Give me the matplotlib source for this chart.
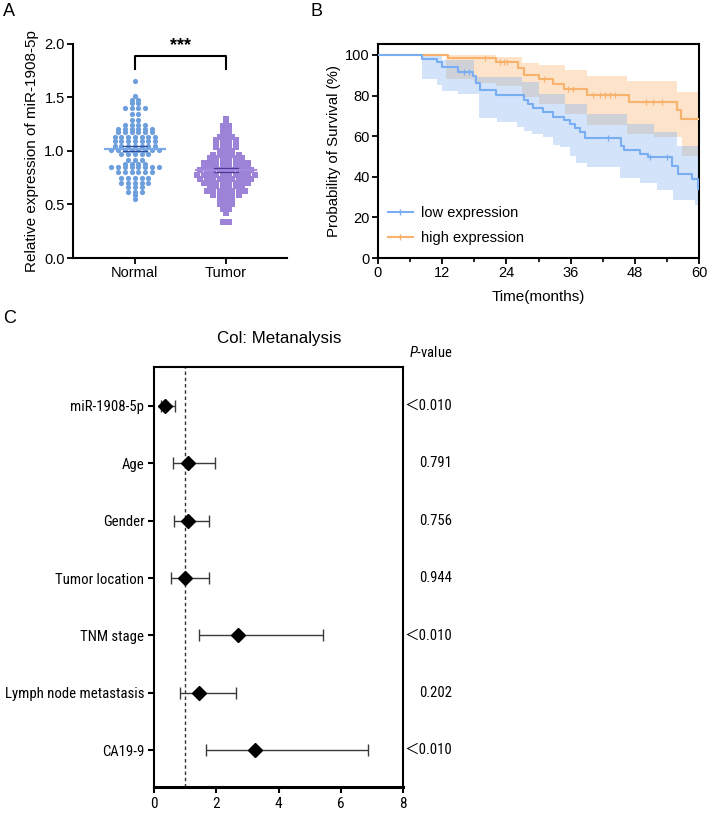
import numpy as np
import matplotlib
matplotlib.use('Agg')
import matplotlib.pyplot as plt
from matplotlib.lines import Line2D
import matplotlib.transforms as mtransforms
from matplotlib import font_manager as fm

plt.rcParams['font.family'] = ['Liberation Sans', 'DejaVu Sans']


def has_font(name):
    try:
        fm.findfont(fm.FontProperties(family=name), fallback_to_default=False)
        return True
    except Exception:
        return False


NARROW_NAME = None
for cand in ['Liberation Sans Narrow', 'Arial Narrow', 'Roboto Condensed',
             'Open Sans Condensed']:
    if has_font(cand):
        NARROW_NAME = cand
        break
if NARROW_NAME:
    NARROW = [NARROW_NAME, 'Liberation Sans', 'Noto Sans CJK SC']
    CS = 1.0
else:
    NARROW = ['Liberation Sans', 'Noto Sans CJK SC']
    CS = 0.84
plt.rcParams['mathtext.fontset'] = 'custom'
plt.rcParams['mathtext.it'] = (NARROW_NAME or 'Liberation Sans') + ':italic'
plt.rcParams['mathtext.rm'] = NARROW_NAME or 'Liberation Sans'

# ---------------- Panel A data ----------------
groups = ['Normal', 'Tumor']
normal_values = [1.65, 1.51, 1.48, 1.48, 1.45, 1.45, 1.40, 1.40, 1.40, 1.40, 1.35, 1.35,
                 1.29, 1.29, 1.24, 1.24, 1.24, 1.24,
                 1.21, 1.21, 1.21, 1.21, 1.21, 1.21,
                 1.18, 1.18, 1.18, 1.18, 1.18, 1.18,
                 1.13, 1.13, 1.13, 1.13, 1.13, 1.13, 1.13,
                 1.09, 1.09, 1.09, 1.09, 1.09, 1.09, 1.09,
                 1.05, 1.05, 1.05, 1.05, 1.05, 1.05, 1.05,
                 1.01, 1.01, 1.01, 1.01, 1.01, 1.01, 1.01, 1.01,
                 0.97, 0.97, 0.97, 0.97, 0.97,
                 0.92, 0.92, 0.92,
                 0.88, 0.88, 0.88, 0.88,
                 0.85, 0.85, 0.85, 0.85, 0.85, 0.85, 0.85, 0.85,
                 0.80, 0.80, 0.80, 0.80, 0.80, 0.80,
                 0.75, 0.75, 0.75, 0.75, 0.75,
                 0.70, 0.70, 0.70, 0.70, 0.70,
                 0.66, 0.66, 0.66, 0.62, 0.62, 0.62, 0.59, 0.55]
tumor_values = [1.30, 1.27, 1.23, 1.23, 1.18, 1.18, 1.13, 1.13, 1.13,
                1.10, 1.10, 1.10, 1.10, 1.07, 1.07, 1.07, 1.07,
                1.04, 1.04, 1.04, 1.04, 1.00, 1.00, 1.00,
                0.96, 0.96, 0.96, 0.96, 0.96,
                0.93, 0.93, 0.93, 0.93, 0.93, 0.93,
                0.89, 0.89, 0.89, 0.89, 0.89, 0.89, 0.89, 0.89,
                0.85, 0.85, 0.85, 0.85, 0.85, 0.85, 0.85, 0.85,
                0.82, 0.82, 0.82, 0.82, 0.82, 0.82, 0.82, 0.82, 0.82,
                0.78, 0.78, 0.78, 0.78, 0.78, 0.78, 0.78, 0.78, 0.78, 0.78,
                0.74, 0.74, 0.74, 0.74, 0.74, 0.74, 0.74, 0.74, 0.74,
                0.70, 0.70, 0.70, 0.70, 0.70, 0.70, 0.70, 0.70,
                0.67, 0.67, 0.67, 0.67, 0.67, 0.67,
                0.63, 0.63, 0.63, 0.63, 0.63, 0.63, 0.63,
                0.59, 0.59, 0.59, 0.59, 0.59,
                0.55, 0.55, 0.55, 0.50, 0.50, 0.50, 0.46, 0.46, 0.42, 0.34, 0.34]
a_yticks = [0.0, 0.5, 1.0, 1.5, 2.0]
sig_label = '***'

# ---------------- Panel B data ----------------
low_t = [0, 8.2, 11.0, 11.9, 15.0, 17.8, 18.3, 19.1, 22.1, 27.3, 28.0, 29.0, 30.9, 32.8,
         34.8, 35.9, 36.8, 37.7, 38.7, 45.5, 46.0, 49.0, 50.5, 54.9, 56.1, 58.6, 59.9]
low_s = [100, 98.2, 96.5, 94.2, 91.5, 89.5, 86, 82.5, 80.5, 78, 76, 74, 72, 69.5,
         68, 66, 64, 62, 59, 55, 53, 51, 49.5, 45.5, 41.5, 39, 34]
high_t = [0, 13.0, 22.1, 26.2, 27.2, 30.0, 32.8, 34.8, 39.0, 47.0, 55.8, 56.7]
high_s = [100, 98.5, 96.5, 93.5, 90, 88, 85.5, 83, 80.5, 77, 73, 68.5]
low_censor = [16.0, 17.0, 43.0, 50.8, 54.0]
high_censor = [20.0, 22.8, 23.5, 24.2, 31.0, 35.5, 36.5, 40.2, 41.5, 42.5, 43.3, 44.3,
               50.0, 51.4, 53.0]
low_lower_t = [0, 8.2, 11.0, 12.0, 15.0, 18.8, 22.2, 26.0, 27.3, 28.7, 30.9, 32.8, 34.0,
               35.9, 37.1, 39.0, 45.2, 49.0, 52.1, 55.2, 59.2]
low_lower_s = [100, 88, 85, 82.2, 80.6, 69, 67, 64.6, 62.7, 61, 59.4, 55.7, 54.8,
               50, 47, 45, 39.5, 36.8, 33.5, 28.6, 26]
low_upper_t = [0, 12.0, 18.0, 27.0, 30.0, 35.0, 39.0, 46.5, 51.5, 55.8]
low_upper_s = [100, 97.5, 89, 86.5, 81, 76, 71, 66, 62, 55]
high_lower_t = [0, 12.8, 18.0, 22.0, 27.0, 30.0, 35.0, 39.0, 46.5, 51.5, 56.8]
high_lower_s = [100, 88, 86, 84.5, 79.5, 76, 71, 65.5, 61, 59.5, 50]
high_upper_t = [0, 22.0, 27.0, 30.0, 35.0, 39.0, 46.5, 55.8]
high_upper_s = [100, 99, 96, 95, 92.5, 89.5, 87, 82]
t_end = 60
b_xticks = [0, 12, 24, 36, 48, 60]
b_yticks = [0, 20, 40, 60, 80, 100]
series_labels = ['low expression', 'high expression']

# ---------------- Panel C data ----------------
factors = ['miR-1908-5p', 'Age', 'Gender', 'Tumor location', 'TNM stage',
           'Lymph node metastasis', 'CA19-9']
hr = [0.35, 1.08, 1.08, 0.98, 2.69, 1.46, 3.24]
ci_low = [0.21, 0.61, 0.63, 0.55, 1.44, 0.83, 1.67]
ci_high = [0.66, 1.97, 1.77, 1.77, 5.44, 2.65, 6.89]
p_values = ['\uff1c0.010', '0.791', '0.756', '0.944', '\uff1c0.010', '0.202', '\uff1c0.010']
c_xticks = [0, 2, 4, 6, 8]

# colours
BLUE_DOT = '#6e9fdd'
PURPLE = '#9d83d8'
BLUE_LINE = '#7aaef2'
ORANGE_LINE = '#f7b36c'
BLUE_BAND = '#d2e3fa'
ORANGE_BAND = '#fde3ca'
GRAY_BAND = '#cfd1d8'

fig = plt.figure(figsize=(7.07, 8.15), dpi=100)
W, H = 707, 815


def ax_rect(l, t, r, b):
    return [l / W, 1 - b / H, (r - l) / W, (b - t) / H]


# ================= Panel A =================
axA = fig.add_axes(ax_rect(73, 44, 287, 258))


def row_offsets(values, dx):
    vals = np.asarray(values)
    xs = np.zeros(len(vals))
    for v in np.unique(vals):
        idx = np.where(vals == v)[0]
        n = len(idx)
        xs[idx] = (np.arange(n) - (n - 1) / 2) * dx
    return xs


nx = row_offsets(normal_values, 0.074)
tx = row_offsets(tumor_values, 0.07)
axA.scatter(0 + nx, normal_values, s=14, marker='o', color=BLUE_DOT, linewidths=0, zorder=3)
axA.scatter(1 + tx, tumor_values, s=15, marker='s', color=PURPLE, linewidths=0, zorder=3)

for i, (vals, lc, dc) in enumerate([(normal_values, '#79a9e6', '#2f4f9a'),
                                    (tumor_values, '#a58ae0', '#4a3a9a')]):
    m = np.mean(vals)
    sem = np.std(vals, ddof=1) / np.sqrt(len(vals))
    axA.plot([i - 0.33, i + 0.33], [m, m], color=lc, lw=1.6, zorder=4)
    axA.plot([i - 0.13, i + 0.13], [m + sem, m + sem], color=dc, lw=0.9, zorder=5)
    axA.plot([i - 0.13, i + 0.13], [m - sem, m - sem], color=dc, lw=0.9, zorder=5)

# significance bracket
axA.plot([0, 0, 1, 1], [1.77, 1.885, 1.885, 1.77], color='black', lw=1.5, clip_on=False)
axA.text(0.5, 1.905, sig_label, ha='center', va='bottom', fontsize=13, fontweight='bold',
         clip_on=False)

axA.set_xlim(-0.68, 1.67)
axA.set_ylim(0, 2.0)
axA.set_xticks([0, 1])
axA.set_xticklabels(groups, fontsize=10.5)
axA.set_yticks(a_yticks)
axA.set_yticklabels([f'{v:.1f}' for v in a_yticks], fontsize=10.5)
axA.set_ylabel('Relative expression of miR-1908-5p', fontsize=11, labelpad=4)
for s in ['top', 'right']:
    axA.spines[s].set_visible(False)
for s in ['left', 'bottom']:
    axA.spines[s].set_linewidth(1.5)
axA.tick_params(width=1.3, length=4, pad=2)

# ================= Panel B =================
axB = fig.add_axes(ax_rect(378, 44, 699, 258))


def step_eval(t, s, q):
    t = np.asarray(t)
    s = np.asarray(s, dtype=float)
    idx = np.searchsorted(t, q, side='right') - 1
    return s[idx]


grid = np.unique(np.concatenate([low_lower_t, low_upper_t, high_lower_t, high_upper_t,
                                 [t_end]]))
bl = step_eval(low_lower_t, low_lower_s, grid)
bu = step_eval(low_upper_t, low_upper_s, grid)
ol = step_eval(high_lower_t, high_lower_s, grid)
ou = step_eval(high_upper_t, high_upper_s, grid)
axB.fill_between(grid, bl, bu, step='post', color=BLUE_BAND, linewidth=0, zorder=1)
axB.fill_between(grid, ol, ou, step='post', color=ORANGE_BAND, linewidth=0, zorder=1)
ov_lo = np.maximum(bl, ol)
ov_up = np.maximum(np.minimum(bu, ou), ov_lo)
axB.fill_between(grid, ov_lo, ov_up, step='post', color=GRAY_BAND, linewidth=0, zorder=2)

axB.step(list(high_t) + [t_end], list(high_s) + [high_s[-1]], where='post',
         color=ORANGE_LINE, lw=1.5, zorder=3)
axB.step(list(low_t) + [t_end], list(low_s) + [low_s[-1]], where='post',
         color=BLUE_LINE, lw=1.5, zorder=4)
axB.plot(high_censor, step_eval(high_t, high_s, np.array(high_censor)), linestyle='none',
         marker='|', ms=4.5, mew=0.9, color=ORANGE_LINE, zorder=3)
axB.plot(low_censor, step_eval(low_t, low_s, np.array(low_censor)), linestyle='none',
         marker='|', ms=4.5, mew=0.9, color=BLUE_LINE, zorder=4)

axB.set_xlim(0, 60)
axB.set_ylim(0, 105.4)
axB.set_xticks(b_xticks)
axB.set_xticks([6, 18, 30, 42, 54], minor=True)
axB.set_yticks(b_yticks)
axB.tick_params(labelsize=10.5, width=1.3, length=4, pad=2)
axB.tick_params(which='minor', width=1.2, length=3)
for s in axB.spines.values():
    s.set_linewidth(1.5)
axB.set_xlabel('Time(months)', fontsize=11, labelpad=7)
axB.set_ylabel('Probability of Survival (%)', fontsize=10.8, labelpad=3)
handles = [Line2D([], [], color=BLUE_LINE, lw=1.5, marker='|', ms=5),
           Line2D([], [], color=ORANGE_LINE, lw=1.5, marker='|', ms=5)]
axB.legend(handles, series_labels, loc='lower left', bbox_to_anchor=(-0.01, 0.0),
           frameon=False, fontsize=10.5, handlelength=1.7, handletextpad=0.6,
           labelspacing=0.75)

# ================= Panel C =================
axC = fig.add_axes(ax_rect(154, 367, 403, 787))
ypos = np.arange(len(factors))
hr_a = np.array(hr)
xerr = np.vstack([hr_a - np.array(ci_low), np.array(ci_high) - hr_a])
axC.errorbar(hr_a, ypos, xerr=xerr, fmt='none', ecolor='#3a3a3a', elinewidth=1.0,
             capsize=4.5, capthick=1.0, zorder=3)
axC.plot(hr_a, ypos, linestyle='none', marker='D', ms=7.5, color='black', zorder=4)
axC.axvline(1, color='#333333', lw=1.0, linestyle=(0, (2.5, 2)), zorder=2)
axC.set_xlim(0, 8)
axC.set_ylim(len(factors) - 0.355, -0.68)
axC.set_xticks(c_xticks)
axC.set_yticks(ypos)
axC.set_yticklabels(factors, fontsize=10.6 * CS, family=NARROW)
for lab in axC.get_xticklabels():
    lab.set_family(NARROW)
    lab.set_fontsize(11 * CS)
axC.tick_params(width=1.5, length=4, pad=3)
for s in axC.spines.values():
    s.set_linewidth(1.5)
axC.spines['bottom'].set_linewidth(2.2)

trans = mtransforms.blended_transform_factory(fig.transFigure, axC.transData)
for y, p in zip(ypos, p_values):
    fig.text(452 / W, y, p, transform=trans, ha='right', va='center', fontsize=10.5 * CS,
             family=NARROW)
fig.text(452 / W, 1 - 353 / H, r'$\it{P}$-value', ha='right', va='center',
         fontsize=10.5 * CS, family=NARROW)
fig.text(279 / W, 1 - 338 / H, 'Col: Metanalysis', ha='center', va='center',
         fontsize=12.2, family=['Liberation Sans', 'DejaVu Sans'])

# panel letters
fig.text(3 / W, 1 - 11 / H, 'A', fontsize=13, va='center', ha='left')
fig.text(310 / W, 1 - 11 / H, 'B', fontsize=13, va='center', ha='left')
fig.text(3 / W, 1 - 319 / H, 'C', fontsize=13, va='center', ha='left')

fig.savefig('out.png', dpi=100)
